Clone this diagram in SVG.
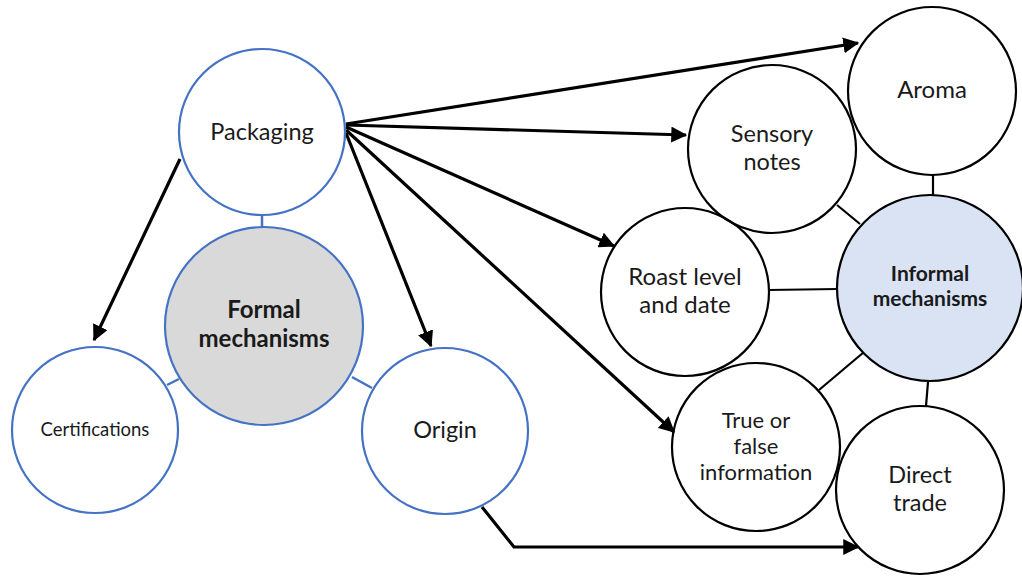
<svg xmlns="http://www.w3.org/2000/svg" width="1022" height="576" viewBox="0 0 1022 576">
<style>
.bl{fill:none;stroke:#4472C4;stroke-width:2.2}
.bk{fill:none;stroke:#000;stroke-width:2.2}
.t{font-family:Lato,"Liberation Sans",sans-serif;fill:#1a1a1a;text-anchor:middle}
.b{font-weight:bold}
.ar{fill:none;stroke:#000;stroke-width:3.2}
.cb{stroke:#4472C4;stroke-width:2.5;fill:none}
.ck{stroke:#000;stroke-width:2.2;fill:none}
</style>
<defs>
<marker id="ah" markerWidth="5" markerHeight="5" refX="4.6" refY="2.5" orient="auto" markerUnits="strokeWidth">
<path d="M0,0 L5,2.5 L0,5 Z" fill="#000"/>
</marker>
</defs>
<rect width="1022" height="576" fill="#fff"/>
<g id="connectors">
<line class="cb" x1="262" y1="215" x2="262" y2="227"/>
<line class="cb" x1="167" y1="385" x2="179" y2="379"/>
<line class="cb" x1="352" y1="377" x2="372" y2="388"/>
<line class="ck" x1="933" y1="174" x2="933" y2="195"/>
<line class="ck" x1="837" y1="205" x2="860" y2="224"/>
<line class="ck" x1="768" y1="290" x2="838" y2="289"/>
<line class="ck" x1="819" y1="390" x2="864" y2="352"/>
<line class="ck" x1="928" y1="382" x2="926" y2="406"/>
<line class="ar" x1="180" y1="159" x2="94" y2="340" marker-end="url(#ah)"/>
<line class="ar" x1="346" y1="133" x2="431" y2="346" marker-end="url(#ah)"/>
<line class="ar" x1="346" y1="124" x2="858" y2="43" marker-end="url(#ah)"/>
<line class="ar" x1="346" y1="125" x2="686" y2="135" marker-end="url(#ah)"/>
<line class="ar" x1="346" y1="127" x2="614" y2="246" marker-end="url(#ah)"/>
<line class="ar" x1="346" y1="130" x2="674" y2="432" marker-end="url(#ah)"/>
<polyline class="ar" points="482,507 514,547 858,547" marker-end="url(#ah)"/>
</g>
<g id="packaging"><circle class="bl" cx="262" cy="132" r="83" fill="#fff"/><text class="t" x="262" y="140" font-size="23.5">Packaging</text></g>
<g id="formal"><circle class="bl" cx="264" cy="326" r="99" style="fill:#D9D9D9"/><text class="t b" x="264" y="318" font-size="24">Formal</text><text class="t b" x="264" y="347" font-size="24">mechanisms</text></g>
<g id="certifications"><circle class="bl" cx="95" cy="430" r="83"/><text class="t" x="95" y="436" font-size="18.5">Certifications</text></g>
<g id="origin"><circle class="bl" cx="445" cy="431" r="83"/><text class="t" x="445" y="438" font-size="23.5">Origin</text></g>
<g id="aroma"><circle class="bk" cx="932" cy="91" r="84"/><text class="t" x="932" y="98" font-size="24">Aroma</text></g>
<g id="sensory"><circle class="bk" cx="772" cy="149" r="84"/><text class="t" x="772" y="142" font-size="23.5">Sensory</text><text class="t" x="772" y="170" font-size="23.5">notes</text></g>
<g id="roast"><circle class="bk" cx="685" cy="292" r="84"/><text class="t" x="685" y="285" font-size="24">Roast level</text><text class="t" x="685" y="313" font-size="24">and date</text></g>
<g id="informal"><circle class="bk" cx="930" cy="288" r="93" style="fill:#DAE3F3"/><text class="t b" x="930" y="281" font-size="21">Informal</text><text class="t b" x="930" y="306" font-size="21">mechanisms</text></g>
<g id="truefalse"><circle class="bk" cx="756" cy="447" r="84"/><text class="t" x="756" y="428" font-size="22">True or</text><text class="t" x="756" y="454" font-size="22">false</text><text class="t" x="756" y="480" font-size="22">information</text></g>
<g id="direct"><circle class="bk" cx="920" cy="490" r="84"/><text class="t" x="920" y="483" font-size="23.5">Direct</text><text class="t" x="920" y="511" font-size="23.5">trade</text></g>
</svg>
